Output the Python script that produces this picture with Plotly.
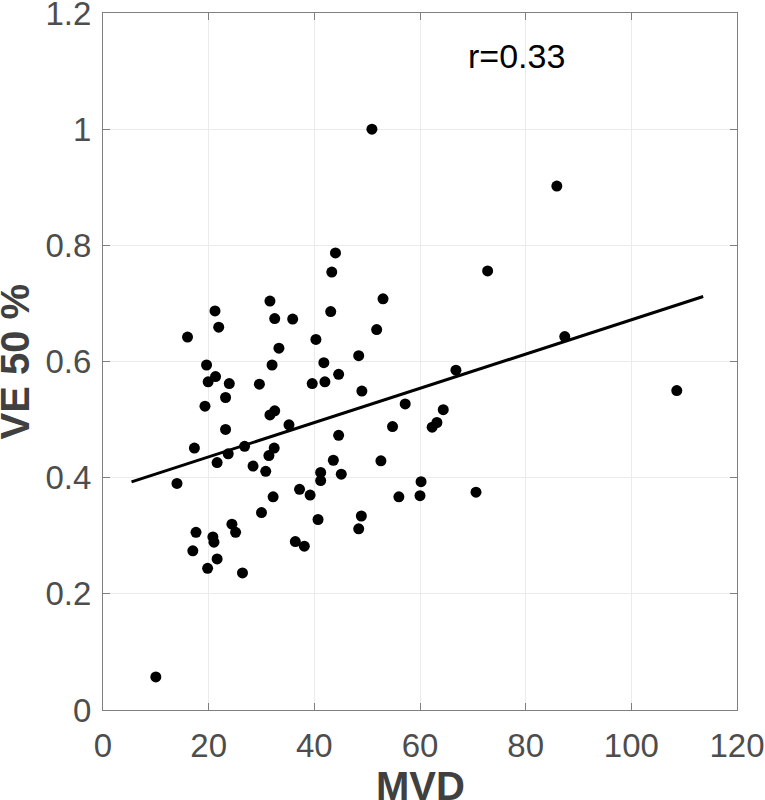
import numpy as np
import plotly.graph_objects as go

mvd = [10.0, 14.0, 16.0, 17.0, 17.3, 17.6, 19.3, 19.6, 19.8, 19.9, 20.8, 21.0, 21.2, 21.3,
       21.6, 21.6, 21.9, 23.2, 23.2, 23.7, 23.9, 24.4, 25.1, 26.4, 26.8, 28.4, 29.6, 30.0,
       30.8, 31.4, 31.6, 31.6, 32.0, 32.2, 32.4, 32.5, 32.5, 33.3, 35.2, 35.9, 36.4, 37.2,
       38.1, 39.2, 39.6, 40.3, 40.7, 41.2, 41.2, 41.8, 42.0, 43.1, 43.3, 43.6, 44.0, 44.6,
       44.6, 45.1, 48.4, 48.4, 48.9, 49.0, 50.9, 51.8, 52.6, 53.0, 54.8, 56.0, 57.2, 60.0,
       60.2, 62.3, 63.2, 64.4, 66.8, 70.6, 72.8, 85.9, 87.4, 108.6]
ve50 = [0.057, 0.390, 0.642, 0.274, 0.451, 0.306, 0.523, 0.594, 0.244, 0.565, 0.298, 0.289,
        0.687, 0.574, 0.426, 0.260, 0.659, 0.538, 0.483, 0.441, 0.562, 0.320, 0.306, 0.236,
        0.454, 0.420, 0.561, 0.340, 0.411, 0.438, 0.508, 0.704, 0.594, 0.367, 0.451, 0.515,
        0.674, 0.623, 0.491, 0.673, 0.290, 0.380, 0.282, 0.370, 0.562, 0.638, 0.328, 0.409,
        0.395, 0.598, 0.565, 0.686, 0.754, 0.430, 0.787, 0.578, 0.473, 0.406, 0.610, 0.312,
        0.334, 0.549, 1.000, 0.655, 0.429, 0.708, 0.488, 0.367, 0.527, 0.369, 0.393, 0.487,
        0.495, 0.517, 0.585, 0.375, 0.756, 0.902, 0.643, 0.550]

line_x_ends = [5.4, 113.6]
x_ticks = [0, 20, 40, 60, 80, 100, 120]
y_ticks = [0, 0.2, 0.4, 0.6, 0.8, 1.0, 1.2]
y_tick_labels = ["0", "0.2", "0.4", "0.6", "0.8", "1", "1.2"]
r_label = "r=0.33"
x_title = "MVD"
y_title = "VE 50 %"

slope, intercept = np.polyfit(mvd, ve50, 1)
line_y = [slope * x + intercept for x in line_x_ends]

fig = go.Figure()
fig.add_trace(go.Scatter(x=mvd, y=ve50, mode="markers",
                         marker=dict(color="black", size=11, line=dict(width=0)),
                         showlegend=False))
fig.add_trace(go.Scatter(x=line_x_ends, y=line_y, mode="lines",
                         line=dict(color="black", width=3), showlegend=False))

fig.add_annotation(x=78.35, y=1.126, text=r_label, showarrow=False,
                   font=dict(family="Liberation Sans, Arial", size=34, color="black"),
                   xanchor="center", yanchor="middle")

title_font = dict(family="Liberation Sans, Arial", size=40, color="#404040")
fig.add_annotation(xref="paper", yref="paper", x=0.5, y=0, xanchor="center", yanchor="top",
                   yshift=-52, text="<b>" + x_title + "</b>", showarrow=False, font=title_font)
fig.add_annotation(xref="paper", yref="paper", x=0, y=0.5, xanchor="center", yanchor="middle",
                   xshift=-89, textangle=-90, text="<b>" + y_title + "</b>", showarrow=False,
                   font=title_font)

axis_common = dict(showline=True, linecolor="#808080", linewidth=1.2, mirror="ticks",
                   ticks="inside", ticklen=7, tickcolor="#808080", tickwidth=1.2,
                   showgrid=True, gridcolor="#ebebeb", gridwidth=1, zeroline=False,
                   ticklabeloverflow="allow",
                   tickfont=dict(family="Liberation Sans, Arial", size=33, color="#4d4d4d"))

fig.update_xaxes(range=[0, 120], tickvals=x_ticks, ticklabelstandoff=6, **axis_common)
fig.update_yaxes(range=[0, 1.2], tickvals=y_ticks, ticktext=y_tick_labels,
                 ticklabelstandoff=4, **axis_common)

fig.update_layout(width=765, height=800, plot_bgcolor="white", paper_bgcolor="white",
                  margin=dict(l=103, r=28, t=13, b=90, autoexpand=False))

fig.write_html("out.html", config={"displayModeBar": False},
               post_script="document.body.style.margin='0';document.body.style.overflow='hidden';")
